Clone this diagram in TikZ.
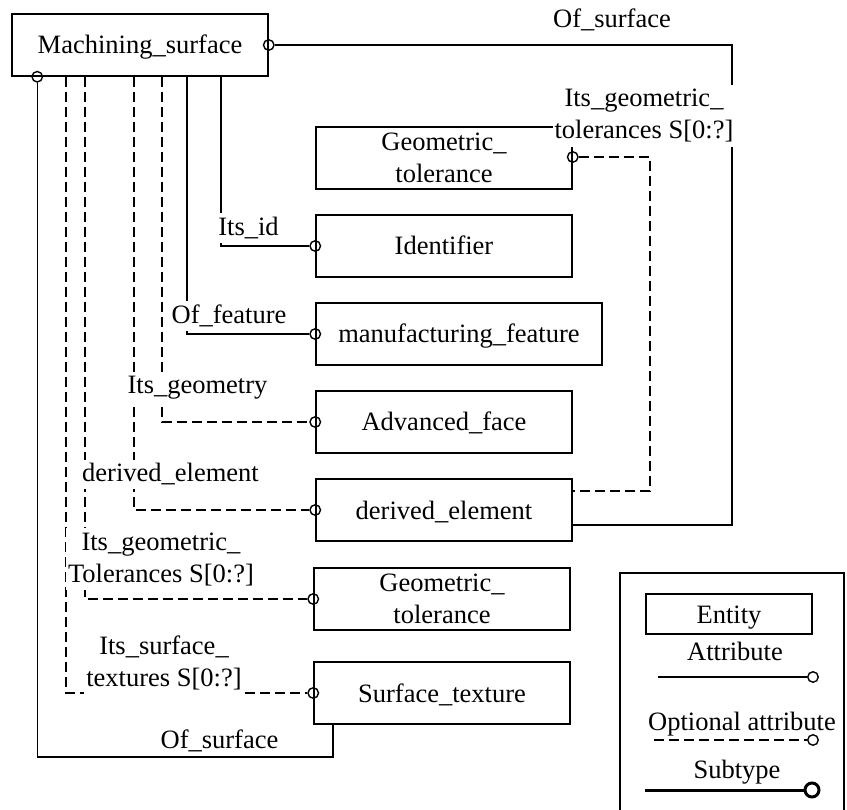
\documentclass[tikz,border=0pt]{standalone}
\usepackage{fontspec}
\setmainfont{Liberation Serif}
\begin{document}
\begin{tikzpicture}[x=1pt, y=-1pt,
  font=\fontsize{26.5}{32}\selectfont,
  line width=1.5pt,
  entity/.style={draw, inner sep=0pt, minimum width=256pt, minimum height=62pt,
    text height=24pt, text depth=6pt},
  entitytwo/.style={draw, inner sep=0pt, minimum width=256pt, minimum height=62pt, align=center},
  optline/.style={dash pattern=on 10pt off 5pt},
  ring/.style={draw, circle, inner sep=0pt, minimum size=10.5pt, line width=1.4pt},
  lbl/.style={inner sep=0pt, anchor=base},
  mask/.style={fill=white, inner xsep=2pt, inner ysep=4pt, align=center}]
\useasboundingbox (0,0) rectangle (847,810);

% entities
\node[entity] (ms) at (140,45) {Machining\_surface};
\node[entitytwo] (gt1) at (444,158) {Geometric\_\\tolerance};
\node[entity] (id) at (444,246) {Identifier};
\node[entity, minimum width=286pt] (mf) at (459,334) {manufacturing\_feature};
\node[entity] (af) at (444,422) {Advanced\_face};
\node[entity] (de) at (444,510) {derived\_element};
\node[entitytwo] (gt2) at (442,599) {Geometric\_\\tolerance};
\node[entity] (st) at (442,693) {Surface\_texture};

% attribute end rings
\node[ring] (r-ms-e) at (ms.east) {};
\node[ring] (r-ms-s) at ([xshift=26pt]ms.south west) {};
\node[ring] (r-gt1) at ([yshift=1pt]gt1.east) {};
\node[ring] (r-id) at (id.west) {};
\node[ring] (r-mf) at (mf.west) {};
\node[ring] (r-af) at (af.west) {};
\node[ring] (r-de) at (de.west) {};
\node[ring] (r-gt2) at (gt2.west) {};
\node[ring] (r-st) at (st.west) {};

% connectors
\draw (r-ms-e.east) -| (732,525) -- ([yshift=-15pt]de.east);
\draw[optline] (r-gt1.east) -| (650,491) -- ([yshift=19pt]de.east);
\draw (ms.south -| 221,0) |- (r-id.west);
\draw (ms.south -| 187,0) |- (r-mf.west);
\draw[optline] (ms.south -| 162,0) |- (r-af.west);
\draw[optline] (ms.south -| 134,0) |- (r-de.west);
\draw[optline] (ms.south -| 85,0) |- (r-gt2.west);
\draw[optline] (ms.south -| 66,0) |- (r-st.west);
\draw (r-ms-s.south) |- (333,757) -- (st.south -| 333,0);

% attribute labels
\node[lbl] (l-os1) at (612,27.3) {Of\_surface};
\node[mask] (l-igt1) at (644,116) {Its\_geometric\_\\tolerances S[0:?]};
\node[mask, anchor=base] (l-id) at (248.5,235.5) {Its\_id};
\node[mask, anchor=base] (l-of) at (229,324) {Of\_feature};
\node[mask, anchor=base] (l-ig) at (197.5,394) {Its\_geometry};
\node[mask, anchor=base] (l-de) at (170.5,482) {derived\_element};
\node[mask] (l-igt2) at (161,559) {Its\_geometric\_\\Tolerances S[0:?]};
\node[mask] (l-ist) at (164,663) {Its\_surface\_\\textures S[0:?]};
\node[lbl] (l-os2) at (219.5,748) {Of\_surface};

% legend
\draw (620,810) -- (620,573) -- (844,573) -- (844,810);
\node[entity, minimum width=166pt, minimum height=40pt] (lg-ent) at (729,614) {Entity};
\node[lbl] (lg-at) at (735,660) {Attribute};
\coordinate (lg-a0) at (658,677);
\node[ring] (lg-a1) at (813,677) {};
\draw (lg-a0) -- (lg-a1.west);
\node[lbl] (lg-oa) at (742,730) {Optional attribute};
\coordinate (lg-o0) at (654,740);
\node[ring] (lg-o1) at (813,740) {};
\draw[optline] (lg-o0) -- (lg-o1.west);
\node[lbl] (lg-st) at (737,778) {Subtype};
\coordinate (lg-s0) at (645,790);
\node[ring, minimum size=14pt, line width=3pt] (lg-s1) at (812,790) {};
\draw[line width=3pt] (lg-s0) -- (lg-s1.west);
\end{tikzpicture}
\end{document}
